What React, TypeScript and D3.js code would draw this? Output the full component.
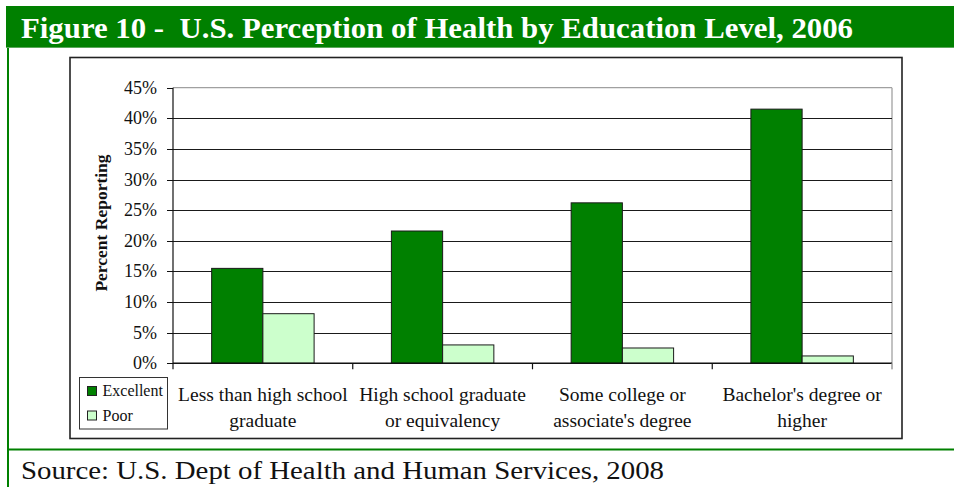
import React from "react";
import * as d3 from "d3";

const categories = [
  "Less than high school graduate",
  "High school graduate or equivalency",
  "Some college or associate's degree",
  "Bachelor's degree or higher",
];
const categoryLines = [
  ["Less than high school", "graduate"],
  ["High school graduate", "or equivalency"],
  ["Some college or", "associate's degree"],
  ["Bachelor's degree or", "higher"],
];
const seriesNames = ["Excellent", "Poor"];
const excellent = [15.5, 21.6, 26.2, 41.5];
const poor = [8.1, 3.0, 2.5, 1.2];
const yTicks = [0, 5, 10, 15, 20, 25, 30, 35, 40, 45];
const titleText = "Figure 10 -\u00a0 U.S. Perception of Health by Education Level, 2006";
const sourceText = "Source: U.S. Dept of Health and Human Services, 2008";
const yTitle = "Percent Reporting";

const W = 954;
const H = 487;
const SERIF = "'Liberation Serif', 'Times New Roman', serif";
const GREEN = "#008000";
const colors: Record<string, string> = { Excellent: "#008000", Poor: "#CCFFCC" };

export default function App() {
  const plotL = 173, plotR = 892, plotT = 87.7, plotB = 363.3;
  const x0 = d3.scaleBand<string>().domain(categories).range([plotL, plotR]).padding(0);
  const bw = x0.bandwidth();
  const x1 = d3.scaleBand<string>().domain(seriesNames).range([bw * 0.215, bw * 0.785]).padding(0);
  const y = d3.scaleLinear().domain([0, 45]).range([plotB, plotT]);
  const data: Record<string, number[]> = { Excellent: excellent, Poor: poor };

  return (
    <svg width={W} height={H} style={{ position: "absolute", left: 0, top: 0, background: "#fff" }} fontFamily={SERIF}>
      {/* title bar */}
      <rect x={6} y={6} width={W - 6} height={42} fill={GREEN} />
      <line x1={6} x2={W} y1={47.5} y2={47.5} stroke="#5aa85a" strokeWidth={1} />
      <text x={21} y={38} fill="#fff" fontSize={29} fontWeight="bold" textLength={832} lengthAdjust="spacingAndGlyphs" style={{ whiteSpace: "pre" }}>
        {titleText}
      </text>
      {/* frame */}
      <line x1={8} x2={8} y1={48} y2={H} stroke={GREEN} strokeWidth={2} />
      <line x1={7} x2={W} y1={449.5} y2={449.5} stroke={GREEN} strokeWidth={2} />
      <text x={21} y={479} fill="#111" fontSize={25} textLength={643} lengthAdjust="spacingAndGlyphs">
        {sourceText}
      </text>

      {/* chart box */}
      <rect x={70} y={57.5} width={832} height={381} fill="#fff" stroke="#222" strokeWidth={1.6} />

      {/* plot area border (gray) */}
      <line x1={plotL} x2={plotR} y1={y(45)} y2={y(45)} stroke="#a0a0a0" strokeWidth={1.2} />
      <line x1={plotR} x2={plotR} y1={y(45)} y2={plotB + 6} stroke="#a8a8a8" strokeWidth={1.4} />

      {/* gridlines */}
      {yTicks.filter((t) => t > 0 && t < 45).map((t) => (
        <line key={t} x1={plotL} x2={plotR} y1={Math.round(y(t)) + 0.5} y2={Math.round(y(t)) + 0.5} stroke="#1a1a1a" strokeWidth={1} />
      ))}

      {/* bars */}
      {categories.map((c, i) => (
        <g key={c} transform={`translate(${x0(c)},0)`}>
          {seriesNames.map((s) => (
            <rect
              key={s}
              x={x1(s)}
              y={y(data[s][i])}
              width={x1.bandwidth()}
              height={plotB - y(data[s][i])}
              fill={colors[s]}
              stroke="#1a1a1a"
              strokeWidth={1}
            />
          ))}
        </g>
      ))}

      {/* y axis */}
      <line x1={plotL} x2={plotL} y1={plotT} y2={plotB} stroke="#111" strokeWidth={1.2} />
      {yTicks.map((t) => (
        <g key={t}>
          <line x1={plotL - 6} x2={plotL} y1={Math.round(y(t)) + 0.5} y2={Math.round(y(t)) + 0.5} stroke="#111" strokeWidth={1} />
          <text x={157} y={y(t) + 6} textAnchor="end" fontSize={18} fill="#111">
            {`${t}%`}
          </text>
        </g>
      ))}
      <text
        transform={`translate(107,223) rotate(-90)`}
        textAnchor="middle"
        fontSize={17.5}
        fontWeight="bold"
        fill="#111"
      >
        {yTitle}
      </text>

      {/* x axis */}
      <line x1={plotL} x2={plotR} y1={plotB} y2={plotB} stroke="#111" strokeWidth={1.4} />
      {[...categories.map((c) => x0(c) as number), plotR].map((xv, i) => (
        <line key={i} x1={xv} x2={xv} y1={plotB} y2={plotB + 6} stroke={i === categories.length ? "#a8a8a8" : "#111"} strokeWidth={1.2} />
      ))}
      {categories.map((c, i) => (
        <text key={c} textAnchor="middle" fontSize={19.5} fill="#111">
          {categoryLines[i].map((ln, j) => (
            <tspan key={j} x={(x0(c) as number) + bw / 2} y={401 + j * 26}>
              {ln}
            </tspan>
          ))}
        </text>
      ))}

      {/* legend */}
      <rect x={79.5} y={377.5} width={88} height={51.5} fill="#fff" stroke="#333" strokeWidth={1} />
      {seriesNames.map((s, i) => (
        <g key={s}>
          <rect x={87.5} y={386.5 + i * 24.5} width={9} height={9} fill={colors[s]} stroke="#222" strokeWidth={1} />
          <text x={102.5} y={396 + i * 24.5} fontSize={16} fill="#111">
            {s}
          </text>
        </g>
      ))}
    </svg>
  );
}
